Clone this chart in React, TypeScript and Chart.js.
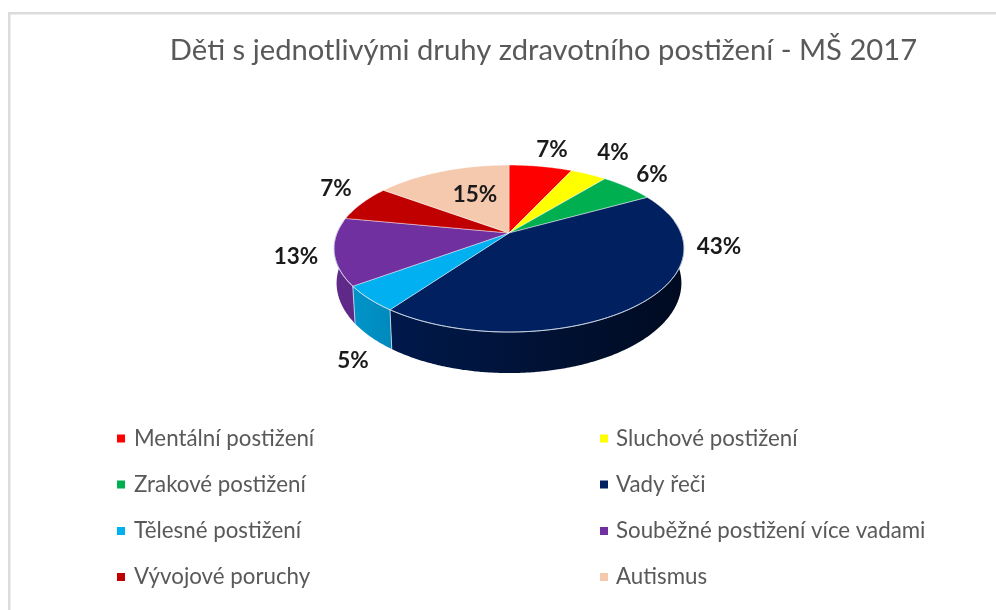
import React, { useEffect, useRef } from "react";
import { Chart, registerables } from "chart.js";

Chart.register(...registerables);

const titleText = "Děti s jednotlivými druhy zdravotního postižení - MŠ 2017";
const categories = [
  "Mentální postižení",
  "Sluchové postižení",
  "Zrakové postižení",
  "Vady řeči",
  "Tělesné postižení",
  "Souběžné postižení více vadami",
  "Vývojové poruchy",
  "Autismus",
];
const shares = [7, 4, 6, 43, 5, 13, 7, 15];
const colors = ["#ff0000", "#ffff00", "#00b050", "#002060", "#00b0f0", "#7030a0", "#c00000", "#f5c9ad"];

// Styling and layout only.
const FONT = "Lato, 'Open Sans', sans-serif";
const PIE_SHIFT_X = -34.5; // title is centred further right than the pie
const PERSPECTIVE = 0.186;
const SQUASH = 0.4686;
const DEPTH = 33.4;
const LABEL_OFFSET = [
  [43, -83], [104, -80], [143, -58], [210, 14],
  [-156, 128], [-213, 24], [-173, -44], [-34, -38],
];
const LEGEND_COLS = [{ box: 117, text: 134 }, { box: 600, text: 616 }];
const LEGEND_ROWS = [438.5, 484.5, 531, 577];

const hexToRgb = (h: string) => [1, 3, 5].map((i) => parseInt(h.slice(i, i + 2), 16));

const pie3d = {
  id: "pie3d",
  beforeDraw(chart: any) {
    const { ctx } = chart;
    ctx.save();
    ctx.fillStyle = "#ffffff";
    ctx.fillRect(0, 0, chart.width, chart.height);
    ctx.fillStyle = "#dcdcdc";
    ctx.fillRect(8, 12, chart.width - 8, 2.5);
    ctx.fillRect(8, 12, 2.5, chart.height - 12);
    ctx.restore();
  },
  beforeDatasetDraw(chart: any) {
    const { ctx } = chart;
    const meta = chart.getDatasetMeta(0);
    const first = meta.data[0];
    const cx = first.x + PIE_SHIFT_X;
    const cy = first.y;
    const R = first.outerRadius;
    const Ry = R * SQUASH;
    const top = (a: number) => {
      const w = 1 / (1 - PERSPECTIVE * Math.sin(a));
      return [cx + R * Math.cos(a) * w, cy + Ry * Math.sin(a) * w];
    };
    const low = (a: number) => {
      const w = 1 / (1 - PERSPECTIVE * Math.sin(a));
      const p = top(a);
      return [cx + (p[0] - cx) * 0.985, p[1] + DEPTH * w];
    };
    const step = Math.PI / 360;
    const visFrom = -0.25;
    const visTo = Math.PI + 0.25;
    ctx.save();

    // side wall: one horizontally shaded band per slice
    meta.data.forEach((el: any, i: number) => {
      const a0 = Math.max(el.startAngle, visFrom);
      const a1 = Math.min(el.endAngle, visTo);
      if (a1 <= a0) return;
      const [r, g, b] = hexToRgb(colors[i]);
      const grad = ctx.createLinearGradient(cx - R * 1.02, 0, cx + R * 1.02, 0);
      for (let t = 0; t <= 1.0001; t += 0.1) {
        const s = Math.max(0.3, 0.6 + 0.27 * (1 - 2 * t));
        grad.addColorStop(Math.min(t, 1), `rgb(${r * s},${g * s},${b * s})`);
      }
      ctx.beginPath();
      const pts: number[][] = [];
      for (let a = a0; a < a1; a += step) pts.push(top(a));
      pts.push(top(a1));
      const back: number[][] = [];
      for (let a = a0; a < a1; a += step) back.push(low(a));
      back.push(low(a1));
      pts.concat(back.reverse()).forEach((p, k) => {
        if (k === 0) ctx.moveTo(p[0], p[1]);
        else ctx.lineTo(p[0], p[1]);
      });
      ctx.closePath();
      ctx.fillStyle = grad;
      ctx.fill();
    });
    // edges between slices on the wall
    meta.data.forEach((el: any) => {
      if (Math.sin(el.startAngle) > 0) {
        const p = top(el.startAngle), q = low(el.startAngle);
        ctx.beginPath();
        ctx.moveTo(p[0], p[1]);
        ctx.lineTo(q[0], q[1]);
        ctx.strokeStyle = "rgba(225,235,245,0.75)";
        ctx.lineWidth = 1;
        ctx.stroke();
      }
    });

    // top face
    meta.data.forEach((el: any, i: number) => {
      ctx.beginPath();
      ctx.moveTo(cx, cy);
      for (let a = el.startAngle; a < el.endAngle; a += step) {
        const p = top(a);
        ctx.lineTo(p[0], p[1]);
      }
      const e = top(el.endAngle);
      ctx.lineTo(e[0], e[1]);
      ctx.closePath();
      ctx.fillStyle = colors[i];
      ctx.fill();
      ctx.strokeStyle = "rgba(255,255,255,0.55)";
      ctx.lineWidth = 0.8;
      ctx.stroke();
    });

    // bright front rim
    ctx.beginPath();
    for (let a = -0.15; a < Math.PI + 0.15; a += step) {
      const p = top(a);
      if (a === -0.15) ctx.moveTo(p[0], p[1]);
      else ctx.lineTo(p[0], p[1]);
    }
    ctx.strokeStyle = "rgba(205,215,230,0.9)";
    ctx.lineWidth = 1;
    ctx.stroke();

    // value labels
    const total = shares.reduce((s, v) => s + v, 0);
    ctx.font = `bold 22.5px ${FONT}`;
    ctx.fillStyle = "#1a1a1a";
    ctx.textAlign = "center";
    ctx.textBaseline = "middle";
    shares.forEach((v, i) => {
      const [dx, dy] = LABEL_OFFSET[i];
      ctx.fillText(`${Math.round((v / total) * 100)}%`, cx + dx, cy + dy);
    });
    ctx.restore();
    return false;
  },
  afterDraw(chart: any) {
    const { ctx } = chart;
    ctx.save();
    ctx.font = `22.3px ${FONT}`;
    ctx.textAlign = "left";
    ctx.textBaseline = "middle";
    categories.forEach((label, i) => {
      const col = LEGEND_COLS[i % 2];
      const y = LEGEND_ROWS[Math.floor(i / 2)];
      ctx.fillStyle = colors[i];
      ctx.fillRect(col.box, y - 4, 8, 8);
      ctx.fillStyle = "#595959";
      ctx.fillText(label, col.text, y);
    });
    ctx.restore();
  },
};

export default function App() {
  const ref = useRef<HTMLCanvasElement>(null);
  useEffect(() => {
    const chart = new Chart(ref.current as HTMLCanvasElement, {
      type: "pie",
      data: {
        labels: categories,
        datasets: [{ data: shares, backgroundColor: colors, borderWidth: 0 }],
      },
      options: {
        responsive: false,
        animation: false,
        layout: { padding: { left: 150, right: 59, top: 0, bottom: 205 } },
        plugins: {
          legend: { display: false },
          tooltip: { enabled: false },
          title: {
            display: true,
            text: titleText,
            color: "#595959",
            font: { family: FONT, size: 29.2, weight: "normal" },
            padding: { top: 33, bottom: -7 },
          },
        },
      },
      plugins: [pie3d],
    } as any);
    return () => chart.destroy();
  }, []);
  return (
    <canvas
      ref={ref}
      width={996}
      height={610}
      style={{ position: "absolute", left: 0, top: 0, display: "block", filter: "blur(0.4px)" }}
    />
  );
}
